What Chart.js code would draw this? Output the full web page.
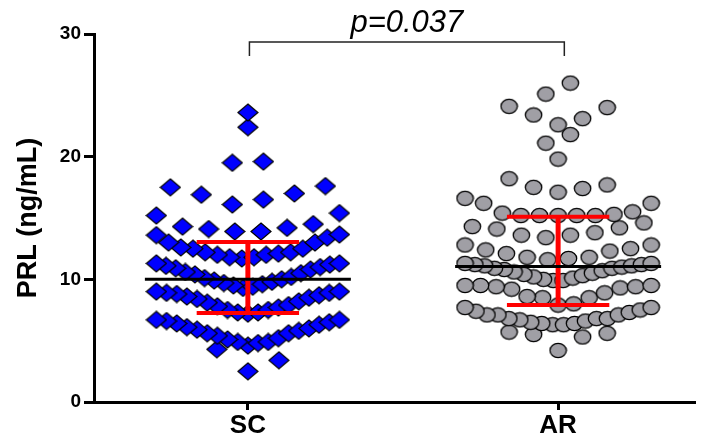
<!DOCTYPE html>
<html>
<head>
<meta charset="utf-8">
<script src="https://cdn.jsdelivr.net/npm/chart.js@4.4.1/dist/chart.umd.min.js"></script>
<style>
  html, body { margin: 0; padding: 0; background: #fff; }
  canvas { display: block; }
</style>
</head>
<body>
<canvas id="prlChart" width="704" height="444"></canvas>
<script>
const groups = ['SC', 'AR'];

// serum PRL per subject (ng/mL)
const scValues = [
  2.5, 3.4, 4.3,
  4.6, 4.8, 4.9, 4.9, 5.1, 5.2, 5.4, 5.6, 5.6, 5.8, 5.9, 6.0, 6.1, 6.3, 6.4, 6.5, 6.6, 6.7, 6.7,
  7.2, 7.3, 7.3, 7.5, 7.5, 7.7, 7.8, 7.9, 8.1, 8.2, 8.4, 8.5, 8.6, 8.7, 8.8, 8.9, 8.9, 9.0, 9.0,
  9.3, 9.4, 9.5, 9.6, 9.7, 9.8, 9.9, 10.0, 10.1, 10.2, 10.4, 10.5, 10.6, 10.8, 10.9, 11.0, 11.1, 11.2, 11.3, 11.3,
  11.7, 11.8, 11.8, 12.0, 12.0, 12.1, 12.2, 12.2, 12.5, 12.5, 12.6, 13.0, 13.0, 13.4, 13.6, 13.65,
  13.9, 13.9, 14.1, 14.2, 14.3, 14.5, 15.2, 15.4,
  16.1, 16.5, 16.9, 17.0, 17.5, 17.6,
  19.5, 19.6, 22.4, 23.6
];
const arValues = [
  4.2, 5.3, 5.5, 5.6, 5.7,
  6.3, 6.3, 6.4, 6.4, 6.5, 6.6, 6.7, 6.8, 6.8, 6.8, 7.1, 7.1, 7.1, 7.3, 7.4, 7.5, 7.7, 7.7,
  7.9, 8.0, 8.5, 8.5, 8.6, 8.9, 9.2, 9.3, 9.4, 9.4, 9.5, 9.5, 9.5,
  9.9, 9.9, 10.0, 10.1, 10.2, 10.3, 10.4, 10.5, 10.6, 10.7, 10.8, 10.9, 10.9, 11.0, 11.1, 11.1, 11.2, 11.2, 11.3, 11.3,
  11.6, 11.7, 11.8, 11.8, 12.1, 12.3, 12.4, 12.5, 12.8, 12.8,
  13.4, 13.6, 13.6, 13.8, 14.1, 14.2, 14.3, 14.6,
  15.2, 15.2, 15.2, 15.2, 15.2, 15.3, 15.4, 15.5, 16.2, 16.2, 16.6,
  17.1, 17.4, 17.5, 17.7, 18.2,
  19.8, 21.1, 21.8,
  22.6, 23.1, 23.4, 24.0, 24.1,
  25.1, 26.0
];

// median with interquartile range
const medians = [10.0, 11.05];
const q1 = [7.25, 7.9];
const q3 = [13.05, 15.1];
const pText = 'p=0.037';

// scatter layout: values are binned into rows, each row spread
// out from the group centre, lowest value in the middle
const binWidth = [2.3, 1.85];
const binStart = [2.2, 4.05];
const maxStep = [0.1, 0.079];
const rowWidth = [0.59, 0.6];

function swarm(values, g) {
  const rows = {};
  values.slice().sort((a, b) => a - b).forEach(v => {
    const b = Math.floor((v - binStart[g]) / binWidth[g]);
    (rows[b] = rows[b] || []).push(v);
  });
  const pts = [];
  Object.values(rows).forEach(row => {
    const n = row.length;
    const step = n > 1 ? Math.min(maxStep[g], rowWidth[g] / (n - 1)) : 0;
    row.forEach((v, i) => {
      let k;
      if (n % 2 === 0) {
        k = (Math.floor(i / 2) + 0.5) * (i % 2 === 0 ? -1 : 1);
      } else {
        k = i === 0 ? 0 : Math.ceil(i / 2) * (i % 2 === 1 ? 1 : -1);
      }
      pts.push({ x: g + 1 + k * step, y: v });
    });
  });
  return pts;
}

function marker(kind) {
  const c = document.createElement('canvas');
  const ctx = c.getContext('2d');
  if (kind === 'diamond') {
    c.width = 22; c.height = 19;
    ctx.beginPath();
    ctx.moveTo(11, 1); ctx.lineTo(21, 9.5); ctx.lineTo(11, 18); ctx.lineTo(1, 9.5);
    ctx.closePath();
    ctx.fillStyle = '#0000ff';
    ctx.fill();
    ctx.lineWidth = 1.2;
    ctx.strokeStyle = '#000';
    ctx.stroke();
  } else {
    c.width = 19; c.height = 17;
    ctx.beginPath();
    ctx.ellipse(9.5, 8.5, 8.2, 7.1, 0, 0, Math.PI * 2);
    ctx.fillStyle = '#a09fa5';
    ctx.fill();
    ctx.lineWidth = 1.3;
    ctx.strokeStyle = '#000';
    ctx.stroke();
  }
  return c;
}

const font = 'Liberation Sans, Arial, sans-serif';

const summaryPlugin = {
  id: 'summary',
  afterDatasetsDraw(chart) {
    const { ctx, scales: { x, y } } = chart;
    ctx.save();
    groups.forEach((g, i) => {
      const cx = x.getPixelForValue(i + 1);
      const capW = x.getPixelForValue(i + 1.165) - cx;
      const lineW = x.getPixelForValue(i + 1.332) - cx;
      const top = y.getPixelForValue(q3[i]);
      const bot = y.getPixelForValue(q1[i]);
      ctx.strokeStyle = '#ff0000';
      ctx.lineCap = 'butt';
      ctx.lineWidth = 5;
      ctx.beginPath();
      ctx.moveTo(cx, top); ctx.lineTo(cx, bot);
      ctx.stroke();
      ctx.lineWidth = 4;
      ctx.beginPath();
      ctx.moveTo(cx - capW, top); ctx.lineTo(cx + capW, top);
      ctx.moveTo(cx - capW, bot); ctx.lineTo(cx + capW, bot);
      ctx.stroke();
      const my = y.getPixelForValue(medians[i]);
      ctx.strokeStyle = '#000';
      ctx.lineWidth = 3;
      ctx.beginPath();
      ctx.moveTo(cx - lineW, my); ctx.lineTo(cx + lineW, my);
      ctx.stroke();
    });

    // comparison bracket
    const x1 = x.getPixelForValue(1.005);
    const x2 = x.getPixelForValue(2.02);
    const bTop = y.getPixelForValue(29.35);
    const bLeg = y.getPixelForValue(28.2);
    ctx.strokeStyle = '#222';
    ctx.lineWidth = 1.5;
    ctx.beginPath();
    ctx.moveTo(x1, bLeg); ctx.lineTo(x1, bTop); ctx.lineTo(x2, bTop); ctx.lineTo(x2, bLeg);
    ctx.stroke();
    ctx.fillStyle = '#000';
    ctx.font = 'italic 31px ' + font;
    ctx.textAlign = 'center';
    ctx.textBaseline = 'alphabetic';
    ctx.fillText(pText, (x1 + x2) / 2, bTop - 10);
    ctx.restore();
  }
};

new Chart(document.getElementById('prlChart'), {
  type: 'scatter',
  data: {
    datasets: [
      {
        label: groups[0],
        data: swarm(scValues, 0),
        pointStyle: marker('diamond'),
        pointRadius: 9
      },
      {
        label: groups[1],
        data: swarm(arValues, 1),
        pointStyle: marker('circle'),
        pointRadius: 8
      }
    ]
  },
  options: {
    responsive: false,
    animation: false,
    layout: { padding: { top: 34, right: 0, bottom: 0, left: 0 } },
    plugins: {
      legend: { display: false },
      tooltip: { enabled: false }
    },
    scales: {
      x: {
        type: 'linear',
        min: 0.504,
        max: 2.438,
        afterBuildTicks: s => { s.ticks = groups.map((g, i) => ({ value: i + 1 })); },
        afterFit: s => { s.height = 42; },
        ticks: {
          callback: v => groups[v - 1],
          color: '#000',
          font: { family: font, size: 26, weight: 'bold' },
          padding: 0,
          maxRotation: 0,
          autoSkip: false
        },
        grid: { drawOnChartArea: false, drawTicks: true, tickLength: 8, lineWidth: 3, color: '#000' },
        border: { display: true, width: 3, color: '#000' }
      },
      y: {
        min: 0,
        max: 30,
        afterFit: s => { s.width = 94; },
        ticks: {
          stepSize: 10,
          color: '#000',
          font: { family: font, size: 19, weight: 'bold' },
          padding: 3
        },
        grid: { drawOnChartArea: false, drawTicks: true, tickLength: 10, lineWidth: 3, color: '#000' },
        border: { display: true, width: 3, color: '#000' },
        title: {
          display: true,
          text: 'PRL (ng/mL)',
          color: '#000',
          font: { family: font, size: 27, weight: 'bold' },
          padding: { top: 12, bottom: 0 }
        }
      }
    }
  },
  plugins: [summaryPlugin]
});
</script>
</body>
</html>
